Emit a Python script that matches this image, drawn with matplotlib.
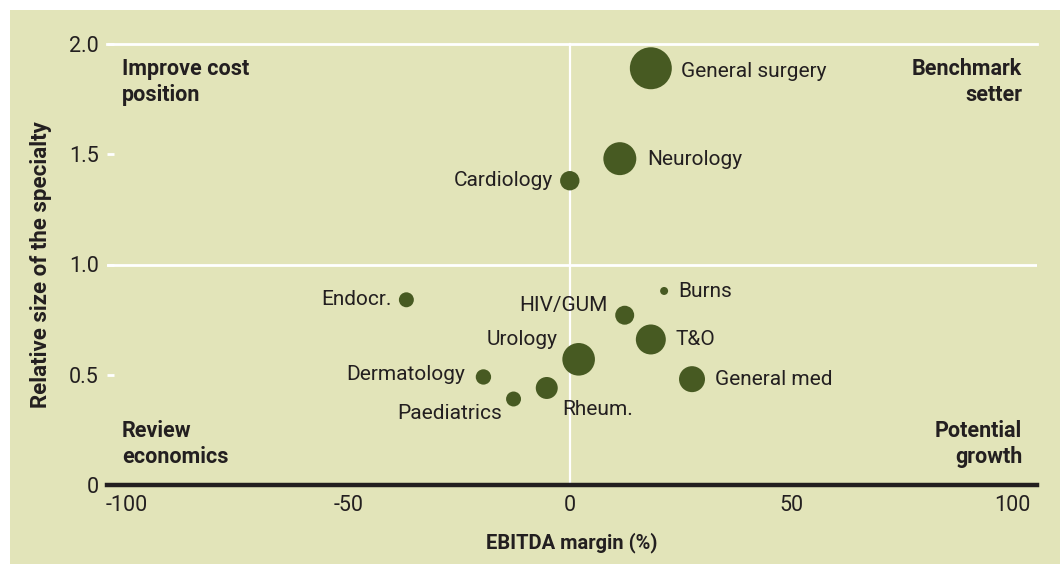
import matplotlib
matplotlib.use("Agg")
import matplotlib.pyplot as plt
from matplotlib.patches import Rectangle

plt.rcParams["font.family"] = ["Roboto", "DejaVu Sans"]

# data
specialties = ["General surgery", "Neurology", "Cardiology", "Endocr.", "Burns",
               "HIV/GUM", "T&O", "Urology", "General med", "Dermatology",
               "Paediatrics", "Rheum."]
ebitda_margin = [18.3, 11.3, 0.0, -36.9, 21.3, 12.4, 18.3, 2.0, 27.6, -19.5, -12.7, -5.2]
relative_size = [1.89, 1.48, 1.38, 0.84, 0.88, 0.77, 0.66, 0.57, 0.48, 0.49, 0.39, 0.44]
bubble_volume = [441, 272, 94, 56, 16, 90, 225, 266, 169, 59, 56, 121]

x_ticks = [-100, -50, 0, 50, 100]
y_ticks = [0, 0.5, 1.0, 1.5, 2.0]
y_tick_labels = ["0", "0.5", "1.0", "1.5", "2.0"]

# label placement (pixels from bubble centre)
label_offsets = [(30, -3), (27, -1), (-17, 0), (-15, 0), (14, -1), (-17, 10),
                 (25, 0), (-21, 20), (23, 0), (-18, 2), (-12, -14), (15, -22)]

BG = "#e2e4b9"
BUBBLE = "#475a22"
INK = "#231f20"

fig = plt.figure(figsize=(10.6, 5.64), dpi=100, facecolor="white")
fig.add_artist(Rectangle((10 / 1060, 0), 1050 / 1060, 554 / 564,
                         transform=fig.transFigure, facecolor=BG,
                         edgecolor="none", zorder=-10))

ax = fig.add_axes([107 / 1060, 79 / 564, 930 / 1060, 441 / 564])
ax.set_facecolor("none")
for s in ax.spines.values():
    s.set_visible(False)

ax.set_xlim(-104.5, 105.5)
ax.set_ylim(0, 2.0)

ax.axhline(1.0, color="white", lw=2, zorder=1)
ax.axhline(2.0, color="white", lw=2, zorder=1, clip_on=False)
ax.plot([0, 0], [0, 2.0], color="white", lw=1.6, zorder=1, clip_on=False)
ax.axhline(0, color=INK, lw=3.2, zorder=3, clip_on=False)

ax.scatter(ebitda_margin, relative_size, s=[v * 2.07 for v in bubble_volume],
           color=BUBBLE, edgecolors="none", zorder=4, clip_on=False)

for name, x, y, (dx, dy) in zip(specialties, ebitda_margin, relative_size, label_offsets):
    ax.annotate(name, (x, y), xytext=(dx, dy), textcoords="offset pixels",
                ha="left" if dx > 0 else "right", va="center",
                fontsize=15, color=INK, zorder=5)

ax.set_xticks(x_ticks)
ax.set_xticklabels([str(t) for t in x_ticks])
ax.set_yticks(y_ticks)
ax.set_yticklabels(y_tick_labels)
ax.tick_params(axis="x", length=0, pad=7, labelsize=15.5, labelcolor=INK)
ax.tick_params(axis="y", direction="in", length=5, width=2, color="white",
               pad=6, labelsize=15.5, labelcolor=INK)

ax.set_xlabel("EBITDA margin (%)", fontsize=14.5, fontweight="bold", color=INK,
              labelpad=12)
ax.set_ylabel("Relative size of the specialty", fontsize=16, fontweight="bold",
              color=INK, labelpad=12)

quad = dict(fontsize=15.5, fontweight="bold", color=INK, transform=ax.transAxes,
            linespacing=1.25)
ax.text(0.016, 0.968, "Improve cost\nposition", ha="left", va="top", **quad)
ax.text(0.984, 0.968, "Benchmark\nsetter", ha="right", va="top", **quad)
ax.text(0.016, 0.038, "Review\neconomics", ha="left", va="bottom", **quad)
ax.text(0.984, 0.038, "Potential\ngrowth", ha="right", va="bottom", **quad)

fig.savefig("out.png", dpi=100, facecolor="white")
